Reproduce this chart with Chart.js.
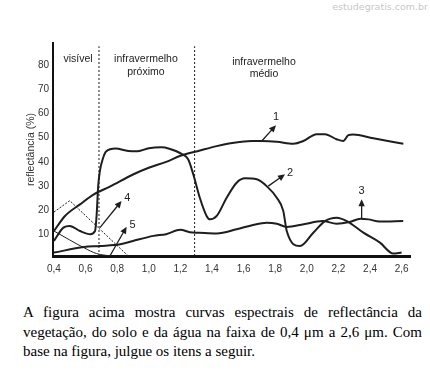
<!DOCTYPE html>
<html>
<head>
<meta charset="utf-8">
<script src="https://cdn.jsdelivr.net/npm/chart.js@4"></script>
<style>
  html, body { margin: 0; padding: 0; background: #fff; }
  body { width: 430px; height: 371px; position: relative; overflow: hidden; }
  #chart { position: absolute; left: 0; top: 0; }
  .mark { position: absolute; right: 2px; top: 1px; font: 9.5px "DejaVu Sans", sans-serif; color: #c8c8c8; }
  .texto { position: absolute; left: 23px; top: 303px; width: 399px; font: 15px "Liberation Serif", "Times New Roman", serif; line-height: 19.5px; color: #000; }
  .texto div { white-space: nowrap; }
  .texto .j { text-align: justify; text-align-last: justify; }
</style>
</head>
<body>
<div class="mark">estudegratis.com.br</div>
<canvas id="chart" width="430" height="285"></canvas>
<div class="texto">
  <div class="j">A figura acima mostra curvas espectrais de reflectância da</div>
  <div class="j">vegetação, do solo e da água na faixa de 0,4 μm a 2,6 μm. Com</div>
  <div>base na figura, julgue os itens a seguir.</div>
</div>
<script>
// wavelength (µm) / reflectance (%)
const xTicks = [0.4, 0.6, 0.8, 1.0, 1.2, 1.4, 1.6, 1.8, 2.0, 2.2, 2.4, 2.6];
const yTicks = [10, 20, 30, 40, 50, 60, 70, 80];
const regionBounds = [0.685, 1.29];

const curve1X = [0.40, 0.47, 0.565, 0.65, 0.754, 0.90, 1.00, 1.11, 1.20, 1.324, 1.43, 1.54, 1.65, 1.715, 1.81, 1.915, 1.978, 2.062, 2.115, 2.189, 2.231, 2.263, 2.294, 2.421, 2.611];
const curve1Y = [11.5, 17.7, 22.5, 26.5, 29.8, 34.8, 37.6, 40.0, 42.5, 44.7, 46.5, 47.9, 48.6, 48.6, 48.3, 47.5, 48.6, 51.4, 51.4, 49.3, 48.6, 51.0, 51.3, 49.7, 47.5];

const curve2X = [0.40, 0.46, 0.50, 0.565, 0.63, 0.66, 0.67, 0.68, 0.69, 0.71, 0.73, 0.79, 0.87, 0.93, 1.00, 1.08, 1.13, 1.21, 1.25, 1.282, 1.324, 1.366, 1.387, 1.43, 1.493, 1.556, 1.609, 1.683, 1.746, 1.81, 1.851, 1.873, 1.957, 2.041, 2.115, 2.189, 2.253, 2.358, 2.463, 2.547, 2.60];
const curve2Y = [7.4, 12.9, 13.6, 11.5, 10.2, 11.5, 18.0, 30.0, 36.0, 41.4, 44.3, 45.5, 44.5, 44.4, 45.6, 46.0, 45.4, 43.2, 41.0, 34.8, 25.0, 17.7, 16.3, 17.7, 25.2, 31.4, 33.2, 32.8, 30.0, 25.2, 19.8, 11.5, 5.3, 10.8, 15.6, 17.0, 15.6, 10.8, 6.7, 2.2, 2.6];

const curve3X = [0.40, 0.59, 0.69, 0.82, 0.90, 1.03, 1.11, 1.20, 1.26, 1.32, 1.43, 1.556, 1.66, 1.746, 1.81, 1.873, 1.98, 2.10, 2.189, 2.27, 2.34, 2.39, 2.46, 2.61];
const curve3Y = [2.6, 4.9, 5.3, 6.0, 7.4, 9.5, 10.2, 12.0, 11.0, 10.8, 10.5, 12.2, 14.0, 14.9, 14.5, 13.2, 14.3, 15.6, 14.5, 15.2, 16.6, 16.3, 15.4, 15.6];

const curve4X = [0.40, 0.50, 0.87];
const curve4Y = [19.3, 24.0, 1.2];

const curve5X = [0.40, 0.50, 0.59, 0.67, 0.76];
const curve5Y = [11.5, 7.8, 4.6, 2.2, 1.2];

// text labels and numbered arrows, placed in data units
const regionLabels = [
  { text: 'visível', x: 0.552, y: 82.3 },
  { text: 'infravermelho', x: 0.982, y: 82.3 },
  { text: 'próximo', x: 0.982, y: 77.0 },
  { text: 'infravermelho', x: 1.729, y: 81.1 },
  { text: 'médio', x: 1.729, y: 76.1 }
];
const arrows = [
  { label: '1', from: [1.715, 48.6], to: [1.805, 55.1], at: [1.805, 58.6] },
  { label: '2', from: [1.756, 30.0], to: [1.862, 34.9], at: [1.894, 35.5] },
  { label: '3', from: [2.347, 16.6], to: [2.347, 24.6], at: [2.347, 27.9] },
  { label: '4', from: [0.691, 12.9], to: [0.828, 23.9], at: [0.864, 25.0] },
  { label: '5', from: [0.754, 1.2], to: [0.860, 13.3], at: [0.898, 13.9] }
];

const pts = (xs, ys) => xs.map((x, i) => ({ x: x, y: ys[i] }));

const line = (xs, ys, width, dash, smooth) => ({
  data: pts(xs, ys),
  borderColor: '#1e1e1e',
  borderWidth: width,
  borderDash: dash,
  pointRadius: 0,
  fill: false,
  tension: smooth ? 0.4 : 0,
  cubicInterpolationMode: smooth ? 'monotone' : 'default'
});

const datasets = [
  line(curve1X, curve1Y, 2, [], true),
  line(curve2X, curve2Y, 2, [], true),
  line(curve3X, curve3Y, 2, [], true),
  line(curve4X, curve4Y, 1, [2, 1.5], false),
  line(curve5X, curve5Y, 1, [], true)
];
regionBounds.forEach(b => {
  datasets.push(line([b, b], [1.2, 87.7], 1, [2, 2], false));
});

const overlay = {
  id: 'overlay',
  afterDatasetsDraw(chart) {
    const { ctx } = chart;
    const sx = chart.scales.x, sy = chart.scales.y;
    const px = v => sx.getPixelForValue(v);
    const py = v => sy.getPixelForValue(v);
    ctx.save();
    ctx.fillStyle = '#222';
    ctx.textAlign = 'center';
    ctx.textBaseline = 'middle';
    ctx.font = '10.5px "Liberation Sans", Arial, sans-serif';
    regionLabels.forEach(r => ctx.fillText(r.text, px(r.x), py(r.y)));

    ctx.strokeStyle = '#1e1e1e';
    ctx.lineWidth = 1.3;
    ctx.font = '11px "Liberation Sans", Arial, sans-serif';
    arrows.forEach(a => {
      const x0 = px(a.from[0]), y0 = py(a.from[1]);
      const x1 = px(a.to[0]), y1 = py(a.to[1]);
      const ang = Math.atan2(y1 - y0, x1 - x0);
      const len = 7, half = 3.2;
      ctx.beginPath();
      ctx.moveTo(x0, y0);
      ctx.lineTo(x1 - Math.cos(ang) * len * 0.8, y1 - Math.sin(ang) * len * 0.8);
      ctx.stroke();
      ctx.beginPath();
      ctx.moveTo(x1, y1);
      ctx.lineTo(x1 - Math.cos(ang) * len - Math.sin(ang) * half, y1 - Math.sin(ang) * len + Math.cos(ang) * half);
      ctx.lineTo(x1 - Math.cos(ang) * len + Math.sin(ang) * half, y1 - Math.sin(ang) * len - Math.cos(ang) * half);
      ctx.closePath();
      ctx.fillStyle = '#1e1e1e';
      ctx.fill();
      ctx.fillStyle = '#222';
      ctx.fillText(a.label, px(a.at[0]), py(a.at[1]));
    });
    ctx.restore();
  }
};

new Chart(document.getElementById('chart').getContext('2d'), {
  type: 'line',
  data: { datasets: datasets },
  options: {
    responsive: false,
    animation: false,
    layout: { padding: { left: 0, top: 43, right: 20, bottom: 0 } },
    plugins: { legend: { display: false }, tooltip: { enabled: false } },
    scales: {
      x: {
        type: 'linear',
        min: 0.394,
        max: 2.653,
        afterBuildTicks: s => { s.ticks = xTicks.map(v => ({ value: v })); },
        afterFit: s => { s.height = 29; },
        grid: { display: false, drawTicks: false },
        border: { display: true, color: '#111', width: 3 },
        ticks: {
          autoSkip: false,
          maxRotation: 0,
          padding: 7,
          color: '#333',
          font: { family: '"Liberation Sans", Arial, sans-serif', size: 10 },
          callback: v => v.toFixed(1).replace('.', ',')
        }
      },
      y: {
        min: 1.2,
        max: 89,
        afterBuildTicks: s => { s.ticks = yTicks.map(v => ({ value: v })); },
        afterFit: s => { s.width = 53; },
        grid: { display: false, drawTicks: false },
        border: { display: true, color: '#111', width: 2 },
        ticks: {
          padding: 4,
          color: '#333',
          font: { family: '"Liberation Sans", Arial, sans-serif', size: 10 }
        },
        title: {
          display: true,
          text: 'reflectância (%)',
          color: '#333',
          padding: { top: 25, bottom: 0 },
          font: { family: '"Liberation Sans", Arial, sans-serif', size: 10.5 }
        }
      }
    }
  },
  plugins: [overlay]
});
</script>
</body>
</html>
